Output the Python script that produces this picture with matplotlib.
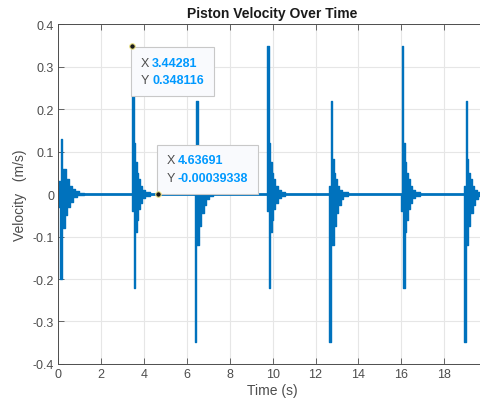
import matplotlib
matplotlib.use('Agg')
import matplotlib.pyplot as plt
from matplotlib.offsetbox import AnnotationBbox, TextArea, HPacker, VPacker

plt.rcParams['font.family'] = ['Liberation Sans', 'DejaVu Sans']

# time of the first spike of each burst and which way it goes
burst_t = [0.08, 3.443, 6.37, 9.75, 12.65, 16.03, 18.93]
burst_kind = ['start', 'up', 'down', 'up', 'down', 'up', 'down']

# step envelopes of each kind of burst (offset from the burst time, value)
start_pos_t = [-0.08, 0.05, 0.11, 0.30, 0.42, 0.55, 0.70, 0.90, 1.10]
start_pos_v = [0.03, 0.13, 0.06, 0.035, 0.02, 0.012, 0.006, 0.002, 0.0]
start_neg_t = [-0.08, 0.00, 0.07, 0.22, 0.32, 0.45, 0.60, 0.80, 1.10]
start_neg_v = [-0.03, -0.20, -0.08, -0.05, -0.03, -0.018, -0.008, -0.003, 0.0]

up_pos_t = [0.00, 0.07, 0.14, 0.21, 0.29, 0.38, 0.48, 0.62, 0.85]
up_pos_v = [0.348, 0.12, 0.075, 0.05, 0.035, 0.02, 0.01, 0.004, 0.0]
up_neg_t = [-0.02, 0.07, 0.13, 0.21, 0.29, 0.38, 0.48, 0.62, 0.85]
up_neg_v = [-0.04, -0.22, -0.09, -0.06, -0.035, -0.02, -0.01, -0.004, 0.0]

down_neg_t = [0.00, 0.07, 0.20, 0.30, 0.42, 0.52, 0.65, 0.85]
down_neg_v = [-0.348, -0.12, -0.075, -0.045, -0.025, -0.012, -0.004, 0.0]
down_pos_t = [-0.02, 0.07, 0.13, 0.20, 0.28, 0.36, 0.45, 0.60, 0.85]
down_pos_v = [0.02, 0.22, 0.082, 0.05, 0.035, 0.02, 0.01, 0.004, 0.0]

envelopes = {
    'start': (start_pos_t, start_pos_v, start_neg_t, start_neg_v),
    'up': (up_pos_t, up_pos_v, up_neg_t, up_neg_v),
    'down': (down_pos_t, down_pos_v, down_neg_t, down_neg_v),
}

# datatips
tip_x = [3.44281, 4.63691]
tip_y = [0.348116, -0.00039338]
tip_xs = ['3.44281', '4.63691']
tip_ys = ['0.348116', '-0.00039338']

blue = '#0072BD'

fig = plt.figure(figsize=(4.8, 4.1), dpi=100)
ax = fig.add_axes([0.1215, 0.1098, 0.893, 0.829])

ax.plot([0, 20], [0, 0], color=blue, lw=2, zorder=2)
for t0, k in zip(burst_t, burst_kind):
    pt, pv, nt, nv = envelopes[k]
    ax.fill_between([t0 + o for o in pt], 0, pv, step='post', color=blue,
                    lw=1.0, edgecolor=blue, zorder=2)
    ax.fill_between([t0 + o for o in nt], nv, 0, step='post', color=blue,
                    lw=1.0, edgecolor=blue, zorder=2)

ax.set_xlim(0, 20)
ax.set_ylim(-0.4, 0.4)
ax.set_xticks(range(0, 19, 2))
ax.set_xticklabels([str(v) for v in range(0, 19, 2)])
yt = [-0.4, -0.3, -0.2, -0.1, 0, 0.1, 0.2, 0.3, 0.4]
ax.set_yticks(yt)
ax.set_yticklabels(['-0.4', '-0.3', '-0.2', '-0.1', '0', '0.1', '0.2', '0.3', '0.4'])
ax.grid(True, color='#e6e6e6', lw=0.8)
ax.set_axisbelow(True)
ax.tick_params(direction='in', length=4, width=0.6, colors='#4d4d4d',
               labelsize=9, top=True, right=True, pad=3)
for s in ax.spines.values():
    s.set_color('#4d4d4d')
    s.set_linewidth(0.7)

ax.set_title('Piston Velocity Over Time', fontsize=10, fontweight='bold',
             color='#1a1a1a', pad=5)
ax.set_xlabel('Time (s)', fontsize=10, color='#4d4d4d', labelpad=2)
ax.set_ylabel('Velocity   (m/s)', fontsize=10, color='#4d4d4d', labelpad=4)

# datatip markers and boxes
ax.plot(tip_x, tip_y, 'o', ms=4, mfc='#1a1a1a', mec='#f0e68c', mew=0.8, zorder=7)
aligns = [((2.4, -3.6), (0, 1)), ((2.4, 3.4), (0, 0))]
for x, y, xs, ys, (off, al) in zip(tip_x, tip_y, tip_xs, tip_ys, aligns):
    rows = []
    for lab, val in (('X', xs), ('Y', ys)):
        rows.append(HPacker(children=[
            TextArea(lab, textprops=dict(color='#4d4d4d', fontsize=9)),
            TextArea(val, textprops=dict(color='#0099ff', fontsize=9, fontweight='bold')),
        ], align='baseline', pad=0, sep=2))
    box = VPacker(children=rows, align='left', pad=4, sep=4)
    ab = AnnotationBbox(box, (x, y), xybox=off, boxcoords='offset points',
                        box_alignment=al, frameon=True, pad=0.25,
                        bboxprops=dict(boxstyle='square', fc='#f9fafd', ec='#c8c8c8', lw=0.8))
    ab.set_zorder(6)
    ax.add_artist(ab)

fig.savefig('out.png', dpi=100)
